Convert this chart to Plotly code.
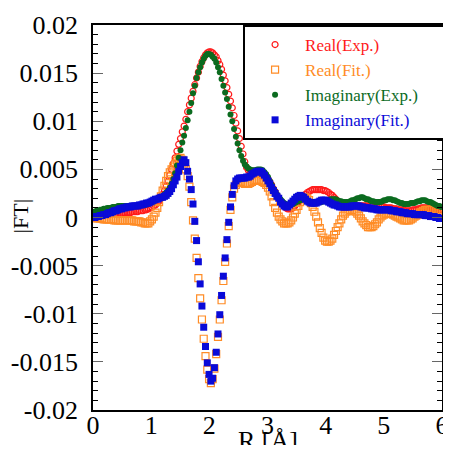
import numpy as np
import plotly.graph_objects as go

# R grid (Angstrom), spacing 0.0307
R = np.round(np.arange(196) * 0.0307, 4)

real_exp = [
    0.0003, 0.0003, 0.0003, 0.0003, 0.0003, 0.0003, 0.0003, 0.0003, 0.0003, 0.0003,
    0.0004, 0.0004, 0.0004, 0.0004, 0.0004, 0.0004, 0.0004, 0.0005, 0.0005, 0.0005,
    0.0005, 0.0005, 0.0006, 0.0006, 0.0006, 0.0006, 0.0007, 0.0007, 0.0007, 0.0008,
    0.0008, 0.0009, 0.0010, 0.0011, 0.0012, 0.0013, 0.0015, 0.0017, 0.0020, 0.0024,
    0.0028, 0.0033, 0.0038, 0.0044, 0.0050, 0.0056, 0.0062, 0.0069, 0.0076, 0.0082,
    0.0089, 0.0095, 0.0102, 0.0110, 0.0117, 0.0124, 0.0131, 0.0138, 0.0145, 0.0151,
    0.0157, 0.0162, 0.0166, 0.0169, 0.0171, 0.0172, 0.0172, 0.0171, 0.0169, 0.0167,
    0.0163, 0.0159, 0.0154, 0.0148, 0.0142, 0.0135, 0.0128, 0.0121, 0.0114, 0.0106,
    0.0098, 0.0090, 0.0082, 0.0074, 0.0066, 0.0058, 0.0052, 0.0049, 0.0048, 0.0047,
    0.0047, 0.0047, 0.0047, 0.0047, 0.0046, 0.0045, 0.0044, 0.0042, 0.0040, 0.0037,
    0.0034, 0.0030, 0.0027, 0.0023, 0.0020, 0.0017, 0.0014, 0.0012, 0.0010, 0.0009,
    0.0009, 0.0009, 0.0010, 0.0012, 0.0014, 0.0016, 0.0018, 0.0020, 0.0022, 0.0024,
    0.0026, 0.0027, 0.0028, 0.0029, 0.0029, 0.0029, 0.0029, 0.0029, 0.0029, 0.0028,
    0.0028, 0.0027, 0.0026, 0.0024, 0.0023, 0.0021, 0.0019, 0.0017, 0.0016, 0.0015,
    0.0014, 0.0013, 0.0013, 0.0012, 0.0012, 0.0012, 0.0012, 0.0012, 0.0012, 0.0012,
    0.0012, 0.0012, 0.0012, 0.0012, 0.0012, 0.0012, 0.0012, 0.0012, 0.0011, 0.0011,
    0.0011, 0.0011, 0.0011, 0.0011, 0.0010, 0.0010, 0.0010, 0.0010, 0.0009, 0.0009,
    0.0009, 0.0008, 0.0008, 0.0008, 0.0008, 0.0007, 0.0007, 0.0007, 0.0007, 0.0008,
    0.0008, 0.0008, 0.0009, 0.0009, 0.0010, 0.0010, 0.0010, 0.0010, 0.0010, 0.0010,
    0.0009, 0.0009, 0.0009, 0.0008, 0.0008, 0.0008,
]

real_fit = [
    0.0000, 0.0000, -0.0001, -0.0001, -0.0001, -0.0001, -0.0002, -0.0002, -0.0002, -0.0002,
    -0.0002, -0.0002, -0.0003, -0.0003, -0.0003, -0.0003, -0.0003, -0.0003, -0.0003, -0.0003,
    -0.0003, -0.0003, -0.0003, -0.0004, -0.0004, -0.0004, -0.0004, -0.0005, -0.0005, -0.0006,
    -0.0006, -0.0006, -0.0004, -0.0002, 0.0001, 0.0005, 0.0010, 0.0016, 0.0022, 0.0028,
    0.0033, 0.0038, 0.0043, 0.0047, 0.0050, 0.0053, 0.0056, 0.0059, 0.0061, 0.0062,
    0.0060, 0.0056, 0.0050, 0.0043, 0.0032, 0.0016, -0.0003, -0.0022, -0.0042, -0.0063,
    -0.0084, -0.0106, -0.0126, -0.0144, -0.0158, -0.0168, -0.0172, -0.0168, -0.0157, -0.0142,
    -0.0124, -0.0106, -0.0086, -0.0066, -0.0046, -0.0027, -0.0009, 0.0008, 0.0021, 0.0030,
    0.0034, 0.0036, 0.0037, 0.0037, 0.0036, 0.0035, 0.0035, 0.0035, 0.0036, 0.0037,
    0.0038, 0.0039, 0.0039, 0.0039, 0.0038, 0.0037, 0.0036, 0.0034, 0.0031, 0.0027,
    0.0022, 0.0016, 0.0010, 0.0005, 0.0001, -0.0002, -0.0004, -0.0006, -0.0006, -0.0006,
    -0.0005, -0.0003, 0.0000, 0.0004, 0.0008, 0.0012, 0.0016, 0.0019, 0.0021, 0.0021,
    0.0020, 0.0018, 0.0015, 0.0011, 0.0006, 0.0001, -0.0005, -0.0011, -0.0016, -0.0021,
    -0.0024, -0.0025, -0.0025, -0.0024, -0.0022, -0.0018, -0.0014, -0.0010, -0.0006, -0.0002,
    0.0002, 0.0004, 0.0006, 0.0007, 0.0008, 0.0008, 0.0007, 0.0006, 0.0004, 0.0002,
    -0.0001, -0.0004, -0.0006, -0.0008, -0.0010, -0.0010, -0.0010, -0.0009, -0.0007, -0.0005,
    -0.0002, 0.0000, 0.0002, 0.0003, 0.0004, 0.0004, 0.0004, 0.0004, 0.0003, 0.0002,
    0.0001, 0.0000, -0.0001, -0.0002, -0.0003, -0.0003, -0.0003, -0.0003, -0.0002, -0.0001,
    0.0001, 0.0002, 0.0003, 0.0005, 0.0006, 0.0007, 0.0008, 0.0008, 0.0008, 0.0008,
    0.0008, 0.0008, 0.0007, 0.0007, 0.0007, 0.0006,
]

imag_exp = [
    0.0006, 0.0006, 0.0007, 0.0007, 0.0008, 0.0008, 0.0009, 0.0009, 0.0010, 0.0010,
    0.0010, 0.0011, 0.0011, 0.0011, 0.0012, 0.0012, 0.0012, 0.0012, 0.0012, 0.0012,
    0.0012, 0.0012, 0.0012, 0.0012, 0.0012, 0.0012, 0.0012, 0.0013, 0.0013, 0.0013,
    0.0014, 0.0014, 0.0015, 0.0016, 0.0017, 0.0018, 0.0019, 0.0020, 0.0021, 0.0022,
    0.0024, 0.0026, 0.0028, 0.0031, 0.0035, 0.0040, 0.0046, 0.0054, 0.0062, 0.0070,
    0.0078, 0.0085, 0.0093, 0.0101, 0.0110, 0.0119, 0.0129, 0.0137, 0.0145, 0.0151,
    0.0156, 0.0161, 0.0165, 0.0168, 0.0170, 0.0170, 0.0169, 0.0167, 0.0165, 0.0161,
    0.0156, 0.0151, 0.0144, 0.0137, 0.0130, 0.0123, 0.0115, 0.0107, 0.0100, 0.0092,
    0.0084, 0.0077, 0.0070, 0.0064, 0.0059, 0.0055, 0.0053, 0.0051, 0.0050, 0.0049,
    0.0049, 0.0049, 0.0050, 0.0050, 0.0050, 0.0049, 0.0047, 0.0045, 0.0042, 0.0038,
    0.0034, 0.0030, 0.0027, 0.0024, 0.0021, 0.0019, 0.0017, 0.0015, 0.0014, 0.0013,
    0.0013, 0.0014, 0.0014, 0.0015, 0.0016, 0.0017, 0.0018, 0.0019, 0.0019, 0.0019,
    0.0018, 0.0017, 0.0016, 0.0016, 0.0016, 0.0016, 0.0016, 0.0016, 0.0016, 0.0017,
    0.0017, 0.0018, 0.0018, 0.0019, 0.0019, 0.0019, 0.0019, 0.0018, 0.0017, 0.0017,
    0.0016, 0.0016, 0.0016, 0.0016, 0.0017, 0.0018, 0.0018, 0.0019, 0.0020, 0.0020,
    0.0021, 0.0021, 0.0020, 0.0019, 0.0019, 0.0018, 0.0017, 0.0017, 0.0016, 0.0016,
    0.0016, 0.0016, 0.0017, 0.0018, 0.0018, 0.0019, 0.0019, 0.0019, 0.0018, 0.0018,
    0.0017, 0.0016, 0.0015, 0.0015, 0.0014, 0.0014, 0.0014, 0.0014, 0.0015, 0.0015,
    0.0015, 0.0016, 0.0017, 0.0017, 0.0018, 0.0018, 0.0018, 0.0017, 0.0016, 0.0016,
    0.0015, 0.0014, 0.0013, 0.0012, 0.0012, 0.0011,
]

imag_fit = [
    0.0000, 0.0000, 0.0001, 0.0001, 0.0002, 0.0002, 0.0003, 0.0003, 0.0004, 0.0005,
    0.0005, 0.0006, 0.0007, 0.0007, 0.0008, 0.0009, 0.0009, 0.0010, 0.0010, 0.0011,
    0.0011, 0.0011, 0.0012, 0.0012, 0.0012, 0.0012, 0.0013, 0.0013, 0.0014, 0.0014,
    0.0015, 0.0015, 0.0016, 0.0017, 0.0018, 0.0019, 0.0019, 0.0020, 0.0021, 0.0021,
    0.0022, 0.0023, 0.0025, 0.0027, 0.0030, 0.0034, 0.0038, 0.0042, 0.0048, 0.0053,
    0.0057, 0.0060, 0.0057, 0.0048, 0.0040, 0.0029, 0.0014, -0.0004, -0.0024, -0.0046,
    -0.0069, -0.0092, -0.0114, -0.0134, -0.0151, -0.0163, -0.0170, -0.0167, -0.0156, -0.0140,
    -0.0121, -0.0101, -0.0081, -0.0061, -0.0042, -0.0023, -0.0005, 0.0011, 0.0024, 0.0033,
    0.0038, 0.0040, 0.0041, 0.0041, 0.0041, 0.0041, 0.0042, 0.0042, 0.0043, 0.0045,
    0.0046, 0.0047, 0.0048, 0.0048, 0.0048, 0.0046, 0.0044, 0.0041, 0.0038, 0.0035,
    0.0031, 0.0028, 0.0025, 0.0022, 0.0020, 0.0016, 0.0014, 0.0012, 0.0011, 0.0011,
    0.0013, 0.0015, 0.0017, 0.0019, 0.0021, 0.0022, 0.0023, 0.0022, 0.0021, 0.0019,
    0.0017, 0.0016, 0.0015, 0.0015, 0.0015, 0.0015, 0.0016, 0.0017, 0.0018, 0.0018,
    0.0018, 0.0017, 0.0016, 0.0015, 0.0014, 0.0013, 0.0013, 0.0012, 0.0011, 0.0011,
    0.0011, 0.0011, 0.0011, 0.0011, 0.0011, 0.0012, 0.0012, 0.0012, 0.0012, 0.0012,
    0.0011, 0.0011, 0.0010, 0.0010, 0.0010, 0.0010, 0.0009, 0.0009, 0.0009, 0.0008,
    0.0008, 0.0008, 0.0008, 0.0008, 0.0008, 0.0008, 0.0008, 0.0007, 0.0007, 0.0007,
    0.0006, 0.0006, 0.0006, 0.0005, 0.0005, 0.0005, 0.0004, 0.0004, 0.0004, 0.0004,
    0.0003, 0.0003, 0.0003, 0.0003, 0.0003, 0.0003, 0.0002, 0.0002, 0.0002, 0.0001,
    0.0001, 0.0001, 0.0000, 0.0000, -0.0001, -0.0001,
]

series_names = ["Real(Exp.)", "Real(Fit.)", "Imaginary(Exp.)", "Imaginary(Fit.)"]
series_colors = ["#ff1a1a", "#ff8c26", "#0b6b1f", "#0a0ad8"]
series_symbols = ["circle-open", "square-open", "circle", "square"]
series_sizes = [6, 7, 6, 7]
series_values = [real_exp, real_fit, imag_exp, imag_fit]

ytick_vals = [0.02, 0.015, 0.01, 0.005, 0, -0.005, -0.01, -0.015, -0.02]
ytick_text = ["0.02", "0.015", "0.01", "0.005", "0", "-0.005", "-0.01", "-0.015", "-0.02"]
xtick_vals = [0, 1, 2, 3, 4, 5, 6]
xtick_text = ["0", "1", "2", "3", "4", "5", "6"]

FONT = "Liberation Serif"
PAD = "\u00a0" * 10

fig = go.Figure()
for name, col, sym, sz, vals in zip(series_names, series_colors, series_symbols,
                                    series_sizes, series_values):
    marker = dict(symbol=sym, size=sz, color=col)
    if sym.endswith("open"):
        marker["line"] = dict(width=1.2, color=col)
    fig.add_trace(go.Scatter(
        x=R, y=vals, mode="markers",
        name=f"<span style='color:{col}'>{name}</span>{PAD}",
        marker=marker,
    ))

fig.update_layout(
    width=435, height=437, autosize=False,
    margin=dict(l=85, r=1, t=17, b=35, autoexpand=False),
    paper_bgcolor="white", plot_bgcolor="white",
    font=dict(family=FONT, color="black"),
    showlegend=True,
    legend=dict(
        x=0.43, y=1.0, xanchor="left", yanchor="top",
        bordercolor="black", borderwidth=2, bgcolor="white",
        font=dict(family=FONT, size=17),
        itemwidth=50, tracegroupgap=0,
    ),
    xaxis=dict(
        range=[0, 6], tickmode="array", tickvals=xtick_vals, ticktext=xtick_text,
        ticks="", showline=True, linecolor="black", linewidth=1.5, mirror=True,
        showgrid=False, zeroline=False, automargin=False, ticklabelstandoff=-9,
        ticklabeloverflow="allow",
        tickfont=dict(family=FONT, size=26, color="black"),
    ),
    yaxis=dict(
        range=[-0.02, 0.02], tickmode="array", tickvals=ytick_vals, ticktext=ytick_text,
        ticks="inside", ticklen=10, tickwidth=1.2, tickcolor="#666666",
        minor=dict(tickmode="linear", tick0=-0.02, dtick=0.001, ticks="inside",
                   ticklen=5, tickwidth=1, tickcolor="black", showgrid=False),
        showline=True, linecolor="black", linewidth=1.8, mirror="ticks",
        showgrid=False, zeroline=False, ticklabelstandoff=8, automargin=False,
        tickfont=dict(family=FONT, size=26, color="black"),
    ),
    annotations=[
        dict(text="|FT|", xref="paper", yref="paper", x=-0.205, y=0.504,
             xanchor="center", yanchor="middle", textangle=-90, showarrow=False,
             font=dict(family=FONT, size=22, color="black")),
        dict(text="R [Å]", xref="paper", yref="paper", x=0.5, y=-0.037,
             xanchor="center", yanchor="top", showarrow=False,
             font=dict(family=FONT, size=26, color="black")),
    ],
)

fig.write_html("out.html")
